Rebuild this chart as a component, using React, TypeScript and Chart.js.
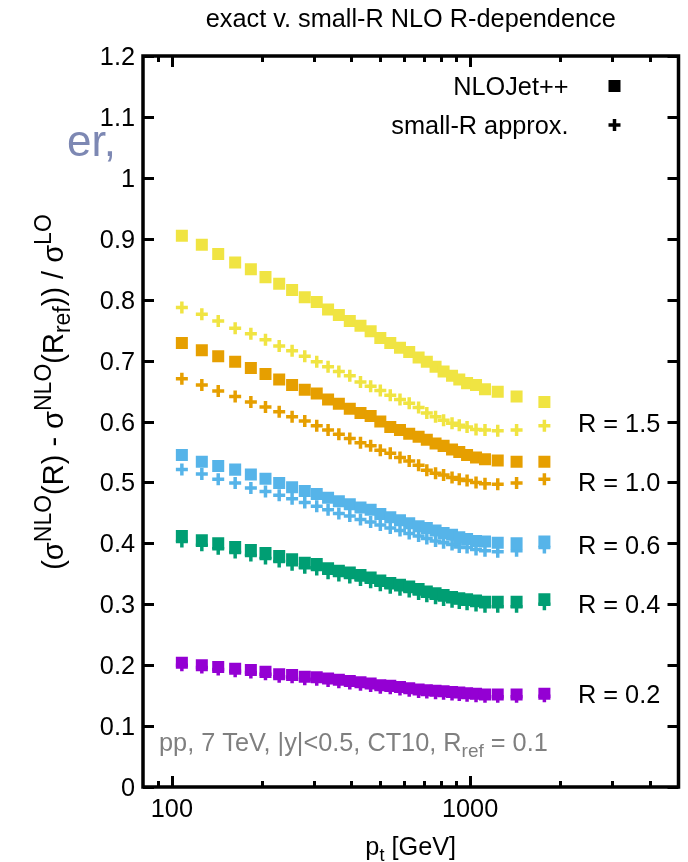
import React, { useEffect, useRef } from 'react';
import { Chart, registerables } from 'chart.js';

Chart.register(...registerables);

// ---------- data ----------
const ptValues = [108, 126, 143, 163, 184, 206, 229, 253, 279, 306, 334, 363, 395, 429, 464, 500, 540, 582, 625, 672, 716, 766, 815, 870, 920, 977, 1047, 1122, 1238, 1432, 1775];

const nloR15 = [0.905, 0.890, 0.875, 0.861, 0.850, 0.837, 0.826, 0.816, 0.804, 0.796, 0.784, 0.775, 0.765, 0.757, 0.748, 0.737, 0.729, 0.721, 0.714, 0.705, 0.698, 0.690, 0.682, 0.675, 0.669, 0.663, 0.660, 0.653, 0.649, 0.641, 0.632];
const smallR15 = [0.787, 0.776, 0.765, 0.753, 0.744, 0.734, 0.724, 0.716, 0.707, 0.698, 0.690, 0.682, 0.675, 0.665, 0.658, 0.651, 0.643, 0.636, 0.630, 0.623, 0.614, 0.608, 0.602, 0.597, 0.594, 0.591, 0.587, 0.586, 0.585, 0.586, 0.593];

const nloR10 = [0.729, 0.717, 0.707, 0.698, 0.688, 0.678, 0.669, 0.660, 0.652, 0.646, 0.636, 0.629, 0.621, 0.614, 0.609, 0.600, 0.591, 0.586, 0.580, 0.575, 0.570, 0.564, 0.560, 0.554, 0.550, 0.545, 0.541, 0.538, 0.536, 0.534, 0.534];
const smallR10 = [0.670, 0.660, 0.650, 0.641, 0.632, 0.624, 0.616, 0.608, 0.601, 0.593, 0.586, 0.579, 0.572, 0.565, 0.560, 0.553, 0.548, 0.541, 0.535, 0.528, 0.520, 0.515, 0.512, 0.508, 0.505, 0.503, 0.500, 0.498, 0.497, 0.499, 0.505];

const nloR06 = [0.545, 0.534, 0.527, 0.521, 0.513, 0.506, 0.499, 0.492, 0.486, 0.481, 0.475, 0.469, 0.464, 0.459, 0.455, 0.448, 0.443, 0.438, 0.433, 0.428, 0.425, 0.421, 0.417, 0.414, 0.410, 0.407, 0.404, 0.403, 0.401, 0.400, 0.403];
const smallR06 = [0.521, 0.514, 0.505, 0.499, 0.491, 0.485, 0.479, 0.473, 0.467, 0.461, 0.455, 0.449, 0.445, 0.439, 0.435, 0.430, 0.425, 0.421, 0.416, 0.412, 0.408, 0.404, 0.401, 0.398, 0.394, 0.393, 0.390, 0.388, 0.386, 0.388, 0.393];

const nloR04 = [0.412, 0.405, 0.400, 0.394, 0.389, 0.384, 0.379, 0.374, 0.368, 0.366, 0.359, 0.355, 0.352, 0.348, 0.344, 0.339, 0.335, 0.332, 0.329, 0.325, 0.321, 0.318, 0.315, 0.312, 0.310, 0.308, 0.306, 0.304, 0.304, 0.304, 0.308];
const smallR04 = [0.403, 0.397, 0.391, 0.385, 0.380, 0.375, 0.370, 0.365, 0.360, 0.357, 0.351, 0.347, 0.344, 0.340, 0.336, 0.331, 0.327, 0.324, 0.321, 0.317, 0.313, 0.310, 0.307, 0.304, 0.302, 0.300, 0.298, 0.296, 0.296, 0.296, 0.300];

const nloR02 = [0.204, 0.200, 0.197, 0.194, 0.192, 0.189, 0.185, 0.184, 0.181, 0.180, 0.178, 0.176, 0.174, 0.172, 0.170, 0.167, 0.166, 0.164, 0.162, 0.160, 0.159, 0.158, 0.157, 0.156, 0.155, 0.154, 0.153, 0.152, 0.152, 0.152, 0.153];
const smallR02 = [0.200, 0.196, 0.193, 0.190, 0.188, 0.185, 0.181, 0.180, 0.177, 0.176, 0.174, 0.172, 0.170, 0.168, 0.166, 0.163, 0.162, 0.160, 0.158, 0.156, 0.155, 0.154, 0.153, 0.152, 0.151, 0.150, 0.149, 0.148, 0.148, 0.148, 0.149];

const yTickValues = [0, 0.1, 0.2, 0.3, 0.4, 0.5, 0.6, 0.7, 0.8, 0.9, 1.0, 1.1, 1.2];
const yTickLabels = ['0', '0.1', '0.2', '0.3', '0.4', '0.5', '0.6', '0.7', '0.8', '0.9', '1', '1.1', '1.2'];
const xMajorTicks = [100, 1000];
const xMajorLabels = ['100', '1000'];
const xMinorTicks = [90, 200, 300, 400, 500, 600, 700, 800, 900, 2000, 3000, 4000];

const seriesLabels = ['R = 1.5', 'R = 1.0', 'R = 0.6', 'R = 0.4', 'R = 0.2'];
const seriesLabelY = [0.598, 0.5, 0.398, 0.301, 0.153];
const seriesColors = ['#f0e442', '#e69f00', '#56b4e9', '#009e73', '#9400d3'];

const titleText = 'exact v. small-R NLO R-dependence';
const legendNlo = 'NLOJet++';
const legendSmall = 'small-R approx.';

const FONT = '"Liberation Sans", Arial, Helvetica, sans-serif';
const FS = 25.3;

type Seg = { t: string; s?: 'sup' | 'sub' };

function segFont(seg: Seg, base: number, small: number) {
  return `${seg.s ? small : base}px ${FONT}`;
}
function richWidth(ctx: CanvasRenderingContext2D, segs: Seg[], base: number, small: number) {
  let w = 0;
  for (const s of segs) {
    ctx.font = segFont(s, base, small);
    w += ctx.measureText(s.t).width;
  }
  return w;
}
function drawRich(ctx: CanvasRenderingContext2D, segs: Seg[], x: number, y: number, base: number, small: number, align: 'left' | 'center' | 'right') {
  const w = richWidth(ctx, segs, base, small);
  let cx = align === 'left' ? x : align === 'center' ? x - w / 2 : x - w;
  ctx.textAlign = 'left';
  ctx.textBaseline = 'alphabetic';
  for (const s of segs) {
    ctx.font = segFont(s, base, small);
    const dy = s.s === 'sup' ? -base * 0.42 : s.s === 'sub' ? base * 0.25 : 0;
    ctx.fillText(s.t, cx, y + dy);
    cx += ctx.measureText(s.t).width;
  }
}

const gnuPlugin = {
  id: 'gnuFrame',
  afterDatasetsDraw(chart: any) {
    const { ctx, chartArea: a, scales } = chart;
    const xs = scales.x;
    const ys = scales.y;
    const line = (x1: number, y1: number, x2: number, y2: number) => {
      ctx.beginPath();
      ctx.moveTo(x1, y1);
      ctx.lineTo(x2, y2);
      ctx.stroke();
    };
    ctx.save();
    ctx.strokeStyle = '#000';
    ctx.lineCap = 'butt';
    // ticks
    ctx.lineWidth = 3;
    const MAJ = 11;
    const MIN = 6;
    yTickValues.forEach((v) => {
      const py = Math.round(ys.getPixelForValue(v)) + 0.5;
      line(a.left, py, a.left + MAJ, py);
      line(a.right, py, a.right - MAJ, py);
    });
    xMajorTicks.forEach((v) => {
      const px = Math.round(xs.getPixelForValue(v)) + 0.5;
      line(px, a.bottom, px, a.bottom - MAJ);
      line(px, a.top, px, a.top + MAJ);
    });
    xMinorTicks.forEach((v) => {
      const px = Math.round(xs.getPixelForValue(v)) + 0.5;
      line(px, a.bottom, px, a.bottom - MIN);
      line(px, a.top, px, a.top + MIN);
    });
    // frame
    ctx.lineWidth = 3.5;
    ctx.strokeRect(a.left, a.top, a.right - a.left, a.bottom - a.top);

    // tick labels
    ctx.fillStyle = '#000';
    ctx.font = `${FS}px ${FONT}`;
    ctx.textAlign = 'right';
    ctx.textBaseline = 'alphabetic';
    yTickValues.forEach((v, i) => {
      ctx.fillText(yTickLabels[i], a.left - 8, ys.getPixelForValue(v) + 9);
    });
    ctx.textAlign = 'center';
    xMajorTicks.forEach((v, i) => {
      ctx.fillText(xMajorLabels[i], xs.getPixelForValue(v), a.bottom + 30);
    });

    // title
    ctx.font = `${FS}px ${FONT}`;
    ctx.textAlign = 'center';
    ctx.fillText(titleText, (a.left + a.right) / 2, 27);

    // x axis title
    drawRich(ctx, [{ t: 'p' }, { t: 't', s: 'sub' }, { t: ' [GeV]' }], (a.left + a.right) / 2, 855, FS, 18, 'center');

    // y axis title (rotated)
    ctx.save();
    ctx.translate(63, 392);
    ctx.rotate(-Math.PI / 2);
    drawRich(
      ctx,
      [
        { t: '(σ' }, { t: 'NLO', s: 'sup' }, { t: '(R) - σ' }, { t: 'NLO', s: 'sup' },
        { t: '(R' }, { t: 'ref', s: 'sub' }, { t: ')) / σ' }, { t: 'LO', s: 'sup' },
      ],
      0, 0, 29, 23, 'center'
    );
    ctx.restore();

    // legend (key)
    ctx.fillStyle = '#000';
    ctx.font = `${FS}px ${FONT}`;
    ctx.textAlign = 'right';
    ctx.fillText(legendNlo, a.right - 110, 95);
    ctx.fillText(legendSmall, a.right - 110, 134);
    const kx = a.right - 64;
    ctx.fillRect(kx - 6, 86 - 6, 12, 12);
    ctx.lineWidth = 3.5;
    line(kx - 6, 125, kx + 6, 125);
    line(kx, 119, kx, 131);

    // R labels
    ctx.textAlign = 'left';
    ctx.font = `${FS}px ${FONT}`;
    seriesLabels.forEach((lab, i) => {
      ctx.fillText(lab, 578, ys.getPixelForValue(seriesLabelY[i]) + 9);
    });

    // annotation
    ctx.fillStyle = '#7f7f7f';
    drawRich(
      ctx,
      [{ t: 'pp, 7 TeV, |y|<0.5, CT10, R' }, { t: 'ref', s: 'sub' }, { t: ' = 0.1' }],
      a.left + 16, 751, FS, 19, 'left'
    );

    // slide fragment
    ctx.fillStyle = '#7d88b3';
    ctx.font = `44px ${FONT}`;
    ctx.textAlign = 'left';
    ctx.fillText('er,', 67, 156);

    ctx.restore();
  },
};

function mk(values: number[]) {
  return values.map((y, i) => ({ x: ptValues[i], y }));
}

export default function App() {
  const ref = useRef<HTMLCanvasElement | null>(null);
  useEffect(() => {
    if (!ref.current) return;
    const nlo = [nloR15, nloR10, nloR06, nloR04, nloR02];
    const sml = [smallR15, smallR10, smallR06, smallR04, smallR02];
    const datasets: any[] = [];
    nlo.forEach((vals, i) => {
      datasets.push({
        label: `NLOJet++ ${seriesLabels[i]}`,
        data: mk(vals),
        showLine: false,
        pointStyle: 'rect',
        pointRadius: 8.5,
        pointHoverRadius: 8.5,
        backgroundColor: seriesColors[i],
        borderColor: seriesColors[i],
        borderWidth: 0,
        order: 0,
      });
    });
    sml.forEach((vals, i) => {
      datasets.push({
        label: `small-R ${seriesLabels[i]}`,
        data: mk(vals),
        showLine: false,
        pointStyle: 'cross',
        pointRadius: 6,
        pointHoverRadius: 6,
        backgroundColor: seriesColors[i],
        borderColor: seriesColors[i],
        borderWidth: 3.5,
        order: 1,
      });
    });
    const chart = new Chart(ref.current, {
      type: 'scatter',
      data: { datasets },
      options: {
        responsive: false,
        animation: false,
        events: [],
        layout: { padding: { left: 0, right: 3, top: 56, bottom: 0 } },
        plugins: { legend: { display: false }, tooltip: { enabled: false }, title: { display: false } },
        scales: {
          x: {
            type: 'logarithmic',
            min: 80,
            max: 5000,
            grid: { display: false },
            border: { display: false },
            ticks: { display: false },
            afterFit: (s: any) => { s.height = 75; },
          },
          y: {
            type: 'linear',
            min: 0,
            max: 1.2,
            grid: { display: false },
            border: { display: false },
            ticks: { display: false },
            afterFit: (s: any) => { s.width = 143; },
          },
        },
      },
      plugins: [gnuPlugin],
    });
    return () => chart.destroy();
  }, []);
  return (
    <div style={{ position: 'absolute', left: 0, top: 0, width: 688, height: 862, background: '#fff' }}>
      <canvas ref={ref} width={688} height={862} />
    </div>
  );
}
